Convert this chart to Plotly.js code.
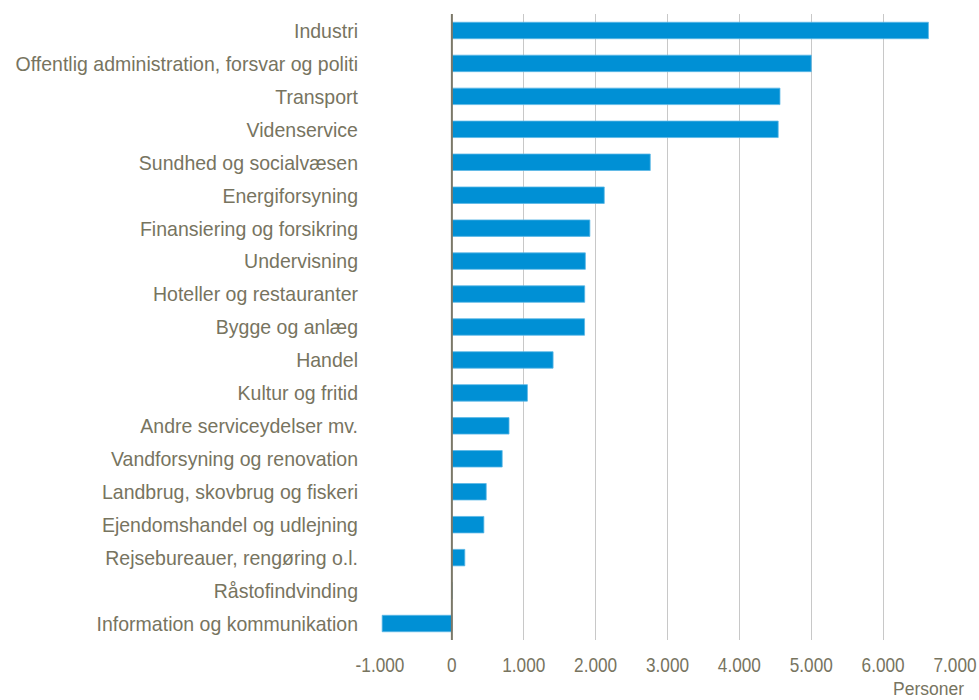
<!DOCTYPE html>
<html>
<head>
<meta charset="utf-8">
<script src="https://cdn.plot.ly/plotly-3.0.1.min.js"></script>
<style>html,body{margin:0;padding:0;background:#fff;}#chart{width:979px;height:700px;}</style>
</head>
<body>
<div id="chart"></div>
<script>
const categories = [
  "Industri",
  "Offentlig administration, forsvar og politi",
  "Transport",
  "Videnservice",
  "Sundhed og socialvæsen",
  "Energiforsyning",
  "Finansiering og forsikring",
  "Undervisning",
  "Hoteller og restauranter",
  "Bygge og anlæg",
  "Handel",
  "Kultur og fritid",
  "Andre serviceydelser mv.",
  "Vandforsyning og renovation",
  "Landbrug, skovbrug og fiskeri",
  "Ejendomshandel og udlejning",
  "Rejsebureauer, rengøring o.l.",
  "Råstofindvinding",
  "Information og kommunikation"
];
const values = [6630, 5000, 4565, 4540, 2760, 2120, 1920, 1857, 1848, 1846, 1408, 1051, 795, 700, 478, 445, 180, 5, -970];
const tickVals = [-1000, 0, 1000, 2000, 3000, 4000, 5000, 6000, 7000];
const tickLabels = ["-1.000", "0", "1.000", "2.000", "3.000", "4.000", "5.000", "6.000", "7.000"];
const axisUnit = "Personer";

const textColor = "#77745f";
const fontFam = "'Liberation Sans Narrow', 'Arial Narrow', 'Liberation Sans', Arial, sans-serif";

const trace = {
  type: "bar",
  orientation: "h",
  y: categories,
  x: values,
  marker: {color: "#0090d5", line: {color: "#5cb8e6", width: 0.8}},
  width: 0.5,
  hoverinfo: "x+y"
};

const layout = {
  width: 979, height: 700,
  margin: {l: 380, r: 24, t: 14, b: 60},
  paper_bgcolor: "#fff", plot_bgcolor: "#fff",
  showlegend: false,
  separators: ",.",
  font: {family: fontFam, color: textColor, size: 20},
  xaxis: {
    range: [-1000, 7000],
    tickvals: tickVals,
    ticktext: tickLabels,
    showgrid: true, gridcolor: "#c8c8c8", gridwidth: 1,
    zeroline: false,
    showline: false,
    ticks: "", ticklen: 0,
    ticklabelstandoff: 10,
    ticklabeloverflow: "allow",
    tickfont: {family: fontFam, size: 21, color: textColor},
    fixedrange: true
  },
  yaxis: {
    categoryorder: "array",
    categoryarray: categories,
    autorange: "reversed",
    showgrid: false,
    zeroline: false,
    showline: false,
    ticks: "",
    ticklabelstandoff: 21,
    tickfont: {family: fontFam, size: 21, color: textColor},
    fixedrange: true
  },
  shapes: [{
    type: "line", xref: "x", yref: "paper",
    x0: 0, x1: 0, y0: 0, y1: 1,
    line: {color: "#7b7868", width: 2}
  }],
  annotations: [{
    xref: "paper", yref: "paper",
    x: 1.019, y: -0.0785,
    xanchor: "right", yanchor: "middle",
    showarrow: false,
    text: axisUnit,
    font: {family: fontFam, size: 17.5, color: textColor}
  }]
};

function condense(sel, s) {
  document.querySelectorAll(sel).forEach(function (t) {
    if (t.getAttribute("data-condensed")) return;
    const x = parseFloat(t.getAttribute("x") || 0);
    const tr = t.getAttribute("transform") || "";
    t.setAttribute("transform", tr + " translate(" + x + ",0) scale(" + s + ",1) translate(" + (-x) + ",0)");
    t.setAttribute("data-condensed", "1");
  });
}

Plotly.newPlot("chart", [trace], layout, {displayModeBar: false, staticPlot: true}).then(function () {
  condense("#chart .ytick text", 0.93);
  condense("#chart .xtick text", 0.82);
});
</script>
</body>
</html>
